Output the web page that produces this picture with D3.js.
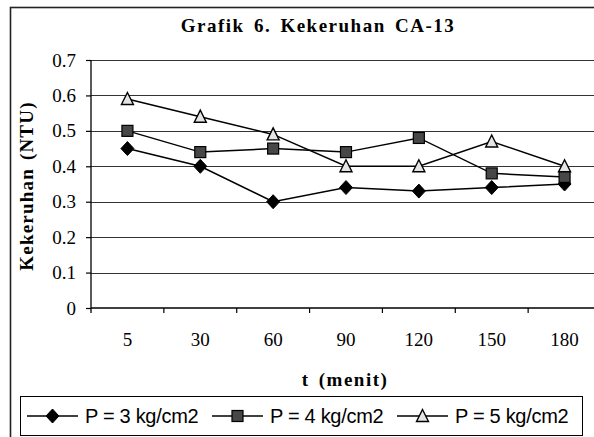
<!DOCTYPE html>
<html>
<head>
<meta charset="utf-8">
<script src="https://cdn.jsdelivr.net/npm/d3@7"></script>
<style>
  html, body { margin: 0; padding: 0; background: #fff; }
  svg { display: block; }
</style>
</head>
<body>
<script>
const categories = ["5", "30", "60", "90", "120", "150", "180"];
const seriesNames = ["P = 3 kg/cm2", "P = 4 kg/cm2", "P = 5 kg/cm2"];
const p3 = [0.45, 0.40, 0.30, 0.34, 0.33, 0.34, 0.35];
const p4 = [0.50, 0.44, 0.45, 0.44, 0.48, 0.38, 0.37];
const p5 = [0.59, 0.54, 0.49, 0.40, 0.40, 0.47, 0.40];
const yTicks = [0, 0.1, 0.2, 0.3, 0.4, 0.5, 0.6, 0.7];
const title = "Grafik 6. Kekeruhan CA-13";
const xTitle = "t (menit)";
const yTitle = "Kekeruhan (NTU)";

const W = 594, H = 437;
const svg = d3.select("body").append("svg").attr("width", W).attr("height", H);

// outer chart border (extends past the image on right/bottom)
svg.append("rect").attr("x", 10.5).attr("y", 7.5).attr("width", 640).attr("height", 480)
  .attr("fill", "none").attr("stroke", "#222").attr("stroke-width", 1.6);

const plot = { left: 91, right: 601, top: 60, bottom: 308 };
const x = d3.scaleBand().domain(categories).range([plot.left, plot.right]);
const y = d3.scaleLinear().domain([0, 0.7]).range([plot.bottom, plot.top]);

// gridlines
svg.append("g").selectAll("line").data(yTicks.filter(d => d > 0)).join("line")
  .attr("x1", plot.left).attr("x2", plot.right)
  .attr("y1", d => Math.round(y(d)) + 0.5).attr("y2", d => Math.round(y(d)) + 0.5)
  .attr("stroke", "#333").attr("stroke-width", 1.2);

const serif = "'Liberation Serif', 'Times New Roman', serif";
const sans = "'Liberation Sans', Arial, sans-serif";

// y axis
const yAxis = d3.axisLeft(y).tickValues(yTicks).tickSize(5).tickPadding(10)
  .tickFormat(d => d === 0 ? "0" : d3.format(".1f")(d));
const gy = svg.append("g").attr("transform", `translate(${plot.left},0)`).call(yAxis);
gy.select(".domain").attr("stroke", "#000").attr("stroke-width", 1.3)
  .attr("d", `M0,${plot.top}V${plot.bottom + 5}`);
gy.selectAll(".tick line").attr("stroke", "#000").attr("stroke-width", 1.2);
gy.selectAll(".tick text").attr("font-family", serif).attr("font-size", 19).attr("fill", "#000");

// x axis
const gx = svg.append("g").attr("transform", `translate(0,${plot.bottom})`);
gx.append("line").attr("x1", plot.left).attr("x2", plot.right).attr("y1", 0).attr("y2", 0)
  .attr("stroke", "#000").attr("stroke-width", 1.3);
gx.selectAll(".xt").data(categories).join("line").attr("class", "xt")
  .attr("x1", d => x(d) + x.bandwidth()).attr("x2", d => x(d) + x.bandwidth())
  .attr("y1", 0).attr("y2", 5).attr("stroke", "#000").attr("stroke-width", 1.2);
gx.selectAll(".xl").data(categories).join("text").attr("class", "xl")
  .attr("x", d => x(d) + x.bandwidth() / 2).attr("y", 38)
  .attr("text-anchor", "middle").attr("font-family", serif).attr("font-size", 19)
  .text(d => d);

// titles
svg.append("text").attr("x", 318).attr("y", 32).attr("text-anchor", "middle")
  .attr("font-family", serif).attr("font-size", 19).attr("font-weight", "bold")
  .attr("letter-spacing", 1.5).attr("word-spacing", 3).text(title);
svg.append("text").attr("x", 345).attr("y", 386).attr("text-anchor", "middle")
  .attr("font-family", serif).attr("font-size", 19).attr("font-weight", "bold")
  .attr("letter-spacing", 1.5).attr("word-spacing", 3).text(xTitle);
svg.append("text").attr("transform", "translate(33,186) rotate(-90)").attr("text-anchor", "middle")
  .attr("font-family", serif).attr("font-size", 19).attr("font-weight", "bold")
  .attr("letter-spacing", 1.2).attr("word-spacing", 2).text(yTitle);

// markers
function drawMarker(g, type, cx, cy) {
  if (type === 0) {
    g.append("path").attr("d", `M${cx},${cy - 7}L${cx + 6.5},${cy}L${cx},${cy + 7}L${cx - 6.5},${cy}Z`)
      .attr("fill", "#000").attr("stroke", "#000").attr("stroke-width", 1);
  } else if (type === 1) {
    g.append("rect").attr("x", cx - 5.5).attr("y", cy - 5.5).attr("width", 11).attr("height", 11)
      .attr("fill", "#474747").attr("stroke", "#000").attr("stroke-width", 1.2);
  } else {
    g.append("path").attr("d", `M${cx},${cy - 6.5}L${cx + 6},${cy + 5.5}L${cx - 6},${cy + 5.5}Z`)
      .attr("fill", "#e4e4e4").attr("stroke", "#000").attr("stroke-width", 1.4);
  }
}

const seriesData = [p3, p4, p5];
const line = d3.line().x((d, i) => x(categories[i]) + x.bandwidth() / 2).y(d => y(d));
seriesData.forEach((vals, si) => {
  svg.append("path").attr("d", line(vals)).attr("fill", "none")
    .attr("stroke", "#000").attr("stroke-width", 1.5);
});
seriesData.forEach((vals, si) => {
  const g = svg.append("g");
  vals.forEach((v, i) => drawMarker(g, si, x(categories[i]) + x.bandwidth() / 2, y(v)));
});

// legend
svg.append("rect").attr("x", 20.5).attr("y", 396.5).attr("width", 562).attr("height", 39)
  .attr("fill", "#fff").attr("stroke", "#000").attr("stroke-width", 1);
const legendX = [27, 212, 397];
seriesNames.forEach((name, si) => {
  const g = svg.append("g");
  const lx = legendX[si];
  g.append("line").attr("x1", lx).attr("x2", lx + 51).attr("y1", 416).attr("y2", 416)
    .attr("stroke", "#000").attr("stroke-width", 1.5);
  drawMarker(g, si, lx + 25.5, 416);
  g.append("text").attr("x", lx + 58).attr("y", 423).attr("font-family", sans)
    .attr("font-size", 20).attr("letter-spacing", -0.3).text(name);
});
</script>
</body>
</html>
